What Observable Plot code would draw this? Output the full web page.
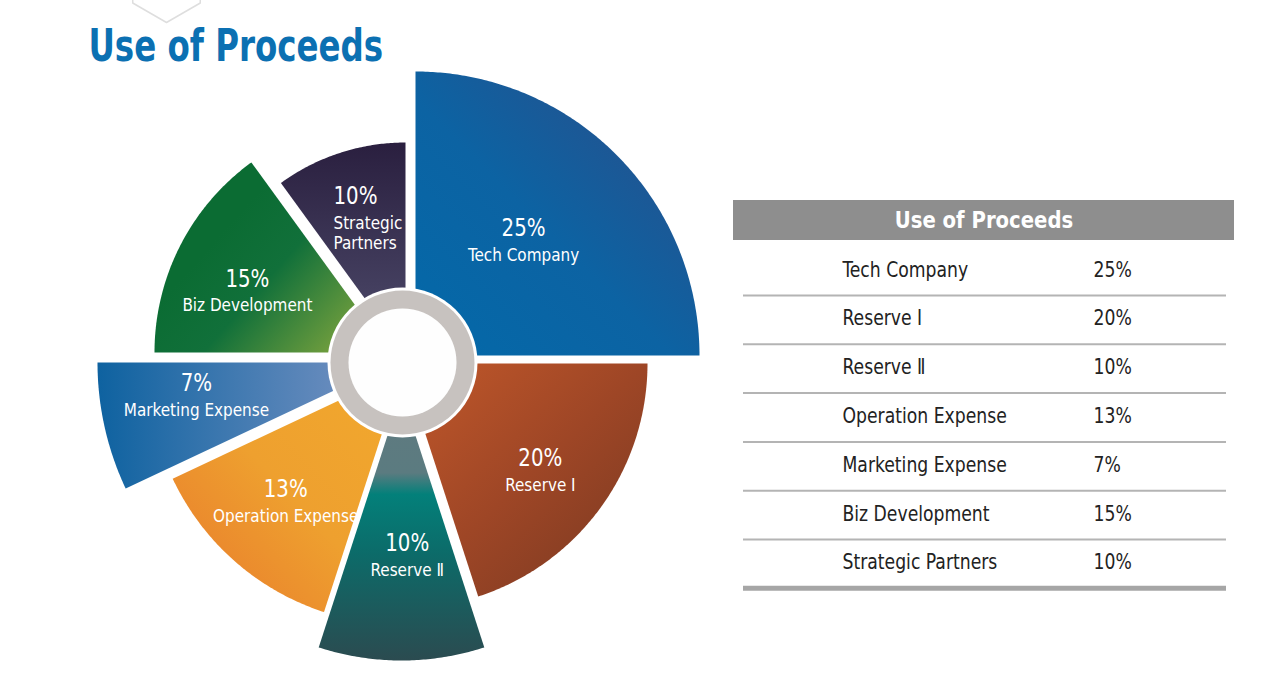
<!DOCTYPE html>
<html><head><meta charset="utf-8">
<script src="https://cdn.jsdelivr.net/npm/d3@7"></script>
<script src="https://cdn.jsdelivr.net/npm/@observablehq/plot@0.6"></script>
<style>html,body{margin:0;padding:0;background:#fff;overflow:hidden} svg{display:block}</style>
</head><body><div id="chart"></div>
<script>
// ---------- data ----------
const categories = ["Tech Company","Reserve Ⅰ","Reserve Ⅱ","Operation Expense","Marketing Expense","Biz Development","Strategic Partners"];
const shares = [25, 20, 10, 13, 7, 15, 10];
const sliceLabels = ["Tech Company","Reserve Ⅰ","Reserve Ⅱ","Operation Expense","Marketing Expense","Biz Development","Strategic\nPartners"];
const chartTitle = "Use of Proceeds";
const tableTitle = "Use of Proceeds";

// ---------- layout / style ----------
const W = 1280, H = 699;
const FONT = "'Liberation Sans Narrow', 'DejaVu Sans Condensed', 'Noto Sans CJK KR', sans-serif";
const center = [402, 362];
const sliceOffset = [[13,-7],[0,1],[-1,30],[0,8],[-9,0],[-13,-10],[3,-8]];
const sliceRadius = [284, 245, 268, 254, 296, 235, 212];
const labelShift = [[-1.5,0.553],[2.2,0.716],[-2,0.612],[0.1,0.694],[2.7,0.676],[-4,0.657],[-8.4,0.764]];
const labelAnchor = ["middle","middle","middle","middle","middle","middle","start"];
const gradients = [
  {x1:0,y1:1,x2:1,y2:0, stops:[[0,"#0369a9"],[0.45,"#0c63a3"],[1,"#2e4b86"]]},
  {x1:0,y1:0,x2:1,y2:1, stops:[[0,"#c2582a"],[0.5,"#9e4626"],[1,"#773821"]]},
  {x1:0,y1:0,x2:0,y2:1, stops:[[0,"#617a80"],[0.3,"#5b7b80"],[0.38,"#03807a"],[0.6,"#0c6b69"],[1,"#2b4b50"]]},
  {x1:1,y1:0,x2:0,y2:1, stops:[[0,"#f2a92d"],[0.5,"#eea02f"],[1,"#e8782c"]]},
  {x1:0,y1:0.5,x2:1,y2:0.5, stops:[[0,"#0e62a0"],[1,"#7c95c4"]]},
  {x1:0.3,y1:0.35,x2:1,y2:0.85, stops:[[0,"#0b6c33"],[0.35,"#11703a"],[1,"#88a93e"]]},
  {x1:0,y1:0,x2:0,y2:1, stops:[[0,"#2a1f3f"],[1,"#4f4d6d"]]}
];
const table = {x1: 733, x2: 1234, headY1: 200, headY2: 240, firstRow: 269, rowH: 48.8, lineX1: 743, lineX2: 1226, labelX: 842, valueX: 1093};
// horizontal condensing per font size (reference uses a condensed face)
const condense = {44: 0.82, 23: 0.95, 22: 0.87, 25: 0.88, 18: 0.94};

// ---------- geometry ----------
const rad = d => d * Math.PI / 180;
const polar = (cx, cy, r, deg) => [cx + r * Math.sin(rad(deg)), cy - r * Math.cos(rad(deg))];
const total = d3.sum(shares);
let acc = 0;
const slices = shares.map((v, i) => {
  const a0 = acc / total * 360; acc += v; const a1 = acc / total * 360;
  return {i, name: categories[i], value: v, a0, a1,
    ax: center[0] + sliceOffset[i][0], ay: center[1] + sliceOffset[i][1], r: sliceRadius[i]};
});
function slicePoints(s) {
  const pts = [{x: s.ax, y: s.ay}];
  const n = Math.ceil((s.a1 - s.a0) * 2);
  for (let k = 0; k <= n; k++) {
    const [x, y] = polar(s.ax, s.ay, s.r, s.a0 + (s.a1 - s.a0) * k / n);
    pts.push({x, y});
  }
  pts.push({x: s.ax, y: s.ay});
  return pts;
}
const labels = slices.map(s => {
  const mid = (s.a0 + s.a1) / 2 + labelShift[s.i][0];
  const [x, y] = polar(s.ax, s.ay, s.r * labelShift[s.i][1], mid);
  return {x, y, pct: `${s.value}%`, name: sliceLabels[s.i], anchor: labelAnchor[s.i]};
});
const nameLines = labels.flatMap(d => d.name.split("\n").map((t, j) => ({x: d.x, y: d.y + 13.5 + j * 20, t, anchor: d.anchor})));
const rows = categories.map((c, i) => ({c, v: `${shares[i]}%`, y: table.firstRow + i * table.rowH, line: table.firstRow + i * table.rowH + 26, last: i === categories.length - 1}));
const hex = d3.range(7).map(k => { const [x, y] = polar(166, -17, 39, 180 + k * 60); return {x, y}; });

// gradient defs mark
const defsMark = () => {
  const ns = "http://www.w3.org/2000/svg";
  const defs = document.createElementNS(ns, "defs");
  gradients.forEach((g, i) => {
    const lg = document.createElementNS(ns, "linearGradient");
    lg.setAttribute("id", "g" + i);
    ["x1","y1","x2","y2"].forEach(k => lg.setAttribute(k, g[k]));
    g.stops.forEach(([o, c]) => { const st = document.createElementNS(ns, "stop"); st.setAttribute("offset", o); st.setAttribute("stop-color", c); lg.appendChild(st); });
    defs.appendChild(lg);
  });
  return defs;
};

const marks = [defsMark];
slices.forEach(s => marks.push(Plot.line(slicePoints(s), {x: "x", y: "y", fill: `url(#g${s.i})`, stroke: "none", curve: "linear"})));
// center ring
marks.push(Plot.dot([center], {x: d => d[0], y: d => d[1], r: 75, fill: "white", stroke: "none"}));
marks.push(Plot.dot([center], {x: d => d[0], y: d => d[1], r: 72, fill: "#c7c2bf", stroke: "none"}));
marks.push(Plot.dot([center], {x: d => d[0], y: d => d[1], r: 54, fill: "#fefefe", stroke: "none"}));
// slice labels
["middle", "start"].forEach(a => {
  marks.push(Plot.text(labels.filter(d => d.anchor === a), {x: "x", y: "y", text: "pct", dy: -13.5, fill: "white", fontSize: 25, fontFamily: FONT, textAnchor: a}));
  marks.push(Plot.text(nameLines.filter(d => d.anchor === a), {x: "x", y: "y", text: "t", fill: "white", fontSize: 18, fontFamily: FONT, textAnchor: a}));
});
// title + decoration
marks.push(Plot.line(hex, {x: "x", y: "y", stroke: "#dedede", strokeWidth: 1.5}));
marks.push(Plot.text([chartTitle], {x: 88, y: 46, text: d => d, fill: "#0b70b2", fontSize: 44, fontWeight: "bold", fontFamily: FONT, textAnchor: "start"}));
// table
marks.push(Plot.rect([tableTitle], {x1: table.x1, x2: table.x2, y1: table.headY1, y2: table.headY2, fill: "#8e8e8e"}));
marks.push(Plot.text([tableTitle], {x: (table.x1 + table.x2) / 2, y: (table.headY1 + table.headY2) / 2, text: d => d, fill: "white", fontSize: 23, fontWeight: "bold", fontFamily: FONT}));
marks.push(Plot.ruleY(rows.filter(d => !d.last), {y: "line", x1: table.lineX1, x2: table.lineX2, stroke: "#b4b4b4", strokeWidth: 2}));
marks.push(Plot.ruleY(rows.filter(d => d.last), {y: "line", x1: table.lineX1, x2: table.lineX2, stroke: "#a6a6a6", strokeWidth: 5}));
marks.push(Plot.text(rows, {x: table.labelX, y: "y", text: "c", fill: "#222", fontSize: 22, fontFamily: FONT, textAnchor: "start"}));
marks.push(Plot.text(rows, {x: table.valueX, y: "y", text: "v", fill: "#222", fontSize: 22, fontFamily: FONT, textAnchor: "start"}));

const chart = Plot.plot({
  width: W, height: H, margin: 0,
  x: {domain: [0, W], range: [0, W], axis: null},
  y: {domain: [0, H], range: [0, H], axis: null},
  style: {background: "white"},
  marks
});
document.getElementById("chart").appendChild(chart);

// condense text horizontally to mimic the narrow typeface
chart.querySelectorAll("text").forEach(t => {
  const fs = Math.round(parseFloat(getComputedStyle(t).fontSize));
  const f = condense[fs];
  if (!f) return;
  const L = t.getComputedTextLength();
  if (L > 0) { t.setAttribute("textLength", (L * f).toFixed(1)); t.setAttribute("lengthAdjust", "spacingAndGlyphs"); }
});
</script>
</body></html>
